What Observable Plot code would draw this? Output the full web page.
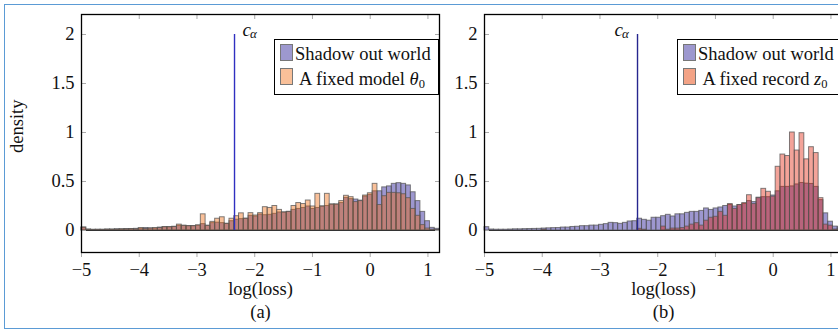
<!DOCTYPE html>
<html>
<head>
<meta charset="utf-8">
<script src="https://cdn.jsdelivr.net/npm/d3@7"></script>
<script src="https://cdn.jsdelivr.net/npm/@observablehq/plot@0.6"></script>
<style>
  html, body { margin: 0; padding: 0; background: white; }
  #wrap { position: relative; width: 838px; height: 331px; overflow: hidden; background: white;
          font-family: "Liberation Serif", serif; color: #111; }
  .panel { position: absolute; top: 0; width: 440px; height: 331px; }
  .outer { position: absolute; left: 4px; top: 4px; width: 900px; height: 325px;
           border: 1.5px solid #5b9bd5; box-sizing: border-box; }
  .legend { position: absolute; top: 39px; height: 56px; width: 165px; box-sizing: border-box;
            border: 1.3px solid #000; background: white; font-size: 18.5px; }
  .sw { position: absolute; left: 4.5px; width: 11px; height: 15px; border: 1px solid #777; }
  .lt { position: absolute; left: 20px; width: 134px; text-align: center; white-space: nowrap; line-height: 18.5px; }
  .lt sub { font-size: 12.5px; line-height: 0; vertical-align: -3px; }
</style>
</head>
<body>
<div id="wrap">
  <div class="outer"></div>
  <div class="panel" id="pa" style="left:0px"></div>
  <div class="panel" id="pb" style="left:403.3px"></div>
  <div class="legend" style="left:274px">
    <div class="sw" style="top:3.5px;background:#9d98cf"></div>
    <div class="lt" style="top:5px">Shadow out world</div>
    <div class="sw" style="top:27.5px;background:#f9c099"></div>
    <div class="lt" style="top:29.5px">A fixed model <i>θ</i><sub>0</sub></div>
  </div>
  <div class="legend" style="left:677px">
    <div class="sw" style="top:3.5px;background:#9d98cf"></div>
    <div class="lt" style="top:5px">Shadow out world</div>
    <div class="sw" style="top:27.5px;background:#f3a386"></div>
    <div class="lt" style="top:29.5px">A fixed record <i>z</i><sub>0</sub></div>
  </div>
</div>
<script>
// ---- data ----
const xMin = -5, xMax = 1.2, binCount = 75;
const binWidth = (xMax - xMin) / binCount;
const xTicks = [-5, -4, -3, -2, -1, 0, 1];
const yTicks = [0, 0.5, 1, 1.5, 2];
const cAlpha = -2.35;
const cAlphaTop = 2;

const shadowA = [0.03,0.01,0.008,0.008,0.008,0.01,0.01,0.012,0.012,0.015,
 0.015,0.017,0.018,0.025,0.022,0.02,0.03,0.034,0.034,0.038,
 0.048,0.048,0.045,0.045,0.05,0.065,0.048,0.075,0.08,0.075,
 0.068,0.095,0.11,0.116,0.12,0.15,0.143,0.163,0.156,0.16,
 0.17,0.184,0.184,0.19,0.21,0.22,0.23,0.245,0.22,0.23,
 0.245,0.25,0.265,0.265,0.28,0.333,0.32,0.316,0.305,0.347,
 0.364,0.4,0.4,0.44,0.45,0.476,0.483,0.476,0.46,0.39,
 0.3,0.19,0.095,0.027,0.017];
const fixedModelA = [0.03,0.008,0.005,0.006,0.006,0.008,0.008,0.01,0.012,0.012,
 0.014,0.012,0.025,0.015,0.02,0.025,0.025,0.034,0.034,0.036,
 0.06,0.048,0.044,0.044,0.052,0.165,0.048,0.088,0.12,0.135,
 0.068,0.12,0.146,0.175,0.12,0.177,0.153,0.177,0.238,0.23,
 0.25,0.21,0.184,0.19,0.25,0.28,0.27,0.306,0.245,0.374,
 0.245,0.374,0.265,0.265,0.3,0.354,0.34,0.29,0.3,0.357,
 0.38,0.476,0.26,0.35,0.384,0.384,0.38,0.37,0.33,0.22,
 0.15,0.055,0.02,0.008,0.005];
const shadowB = [0.034,0.01,0.008,0.008,0.008,0.01,0.012,0.012,0.014,0.015,
 0.016,0.017,0.02,0.022,0.024,0.025,0.03,0.03,0.036,0.038,
 0.044,0.044,0.05,0.05,0.058,0.065,0.078,0.075,0.068,0.078,
 0.092,0.095,0.12,0.109,0.1,0.13,0.13,0.146,0.16,0.143,
 0.165,0.165,0.18,0.19,0.19,0.2,0.225,0.21,0.225,0.235,
 0.25,0.26,0.245,0.26,0.27,0.3,0.29,0.335,0.34,0.34,
 0.357,0.4,0.445,0.445,0.45,0.47,0.485,0.478,0.475,0.445,
 0.31,0.175,0.09,0.04,0.034];
const fixedRecordB = [0,0,0,0,0,0,0,0,0,0,
 0,0,0.008,0,0,0,0,0,0,0,
 0,0,0,0,0,0,0,0,0,0,
 0,0,0.017,0.008,0,0,0,0.04,0.008,0.02,
 0.02,0.025,0.04,0.06,0.075,0.05,0.1,0.13,0.14,0.19,
 0.15,0.27,0.22,0.26,0.28,0.36,0.27,0.33,0.425,0.395,
 0.345,0.65,0.775,0.76,1.0,0.816,0.993,0.726,0.85,0.79,
 0.33,0.06,0.05,0.01,0.01];

// ---- helpers ----
function bins(values) {
  return values.map((v, k) => ({x1: xMin + k * binWidth, x2: xMin + (k + 1) * binWidth, y: v}))
               .filter(d => d.y > 0);
}
const font = "Liberation Serif, serif";
const fmt = d => String(d);

function panel({shadow, fixed, fixedColor, lineColor, yLabel, caption, labelDx}) {
  const marks = [
    Plot.rectY(bins(shadow), {x1: "x1", x2: "x2", y: "y", fill: "#3b30a0", fillOpacity: 0.5,
      stroke: "#555", strokeOpacity: 0.75, strokeWidth: 1, inset: 0}),
    Plot.rectY(bins(fixed), {x1: "x1", x2: "x2", y: "y", fill: fixedColor, fillOpacity: 0.4,
      stroke: "#555", strokeOpacity: 0.75, strokeWidth: 1, inset: 0}),
    Plot.ruleY([0], {stroke: "#333", strokeWidth: 1.2}),
    Plot.ruleX([cAlpha], {y1: 0, y2: cAlphaTop, stroke: lineColor, strokeWidth: 1.4}),
    Plot.text([cAlpha], {x: d => d, y: cAlphaTop, text: () => "c", dx: labelDx, dy: -5,
      textAnchor: "start", fontStyle: "italic", fontSize: 19}),
    Plot.text([cAlpha], {x: d => d, y: cAlphaTop, text: () => "α", dx: labelDx + 7.5, dy: -1,
      textAnchor: "start", fontStyle: "italic", fontSize: 13}),
    Plot.axisX(xTicks, {anchor: "bottom", tickSize: 5, tickPadding: 5, stroke: "#aaa", fill: "#111", label: null}),
    Plot.axisX(xTicks, {anchor: "top", tickSize: -4, stroke: "#aaa", tickFormat: () => "", label: null}),
    Plot.axisY(yTicks, {anchor: "left", tickSize: 0, tickPadding: 7, fill: "#111", tickFormat: fmt, label: null}),
    Plot.axisY(yTicks, {anchor: "left", tickSize: -5, stroke: "#aaa", tickFormat: () => "", label: null}),
    Plot.axisY(yTicks, {anchor: "right", tickSize: -5, stroke: "#aaa", tickFormat: () => "", label: null}),
    Plot.frame({stroke: "#000", strokeWidth: 1.3}),
    Plot.text(["log(loss)"], {frameAnchor: "bottom", text: d => d, dy: 42.5, fill: "#111"}),
    Plot.text([caption], {frameAnchor: "bottom", text: d => d, dy: 65, fill: "#111"})
  ];
  if (yLabel) marks.push(Plot.text([yLabel], {frameAnchor: "left", text: d => d, rotate: -90,
      dx: -64, dy: 19.5, fill: "#111"}));
  return Plot.plot({
    width: 440, height: 331,
    marginLeft: 81, marginRight: 1, marginTop: 14, marginBottom: 79,
    x: {domain: [xMin, xMax], label: null},
    y: {domain: [-0.2245, 2.204], label: null},
    style: {background: "transparent", fontFamily: font, fontSize: "18.5px", overflow: "visible", maxWidth: "none"},
    marks
  });
}

document.getElementById("pa").append(panel({shadow: shadowA, fixed: fixedModelA, fixedColor: "#f06200",
  lineColor: "#3030c0", yLabel: "density", caption: "(a)", labelDx: 8}));
document.getElementById("pb").append(panel({shadow: shadowB, fixed: fixedRecordB, fixedColor: "#e11900",
  lineColor: "#26268e", yLabel: null, caption: "(b)", labelDx: -23}));
</script>
</body>
</html>
